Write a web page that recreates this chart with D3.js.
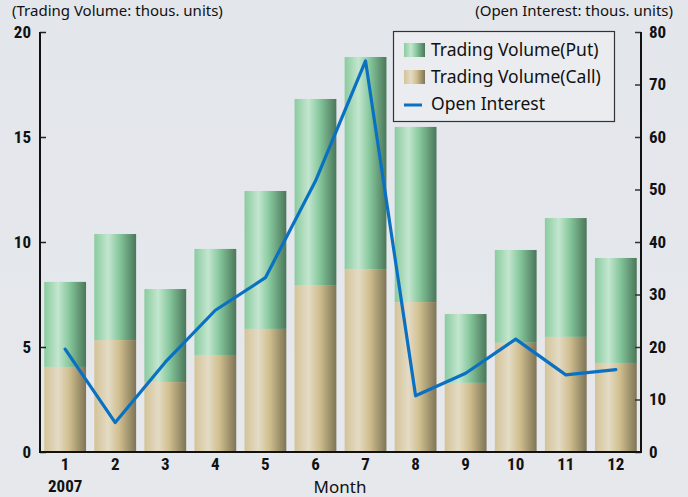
<!DOCTYPE html>
<html><head><meta charset="utf-8">
<script src="https://cdn.jsdelivr.net/npm/d3@7"></script>
<style>
body{margin:0;background:#e5e8ec;}
svg{display:block;}
</style></head>
<body>
<script>
const months = ["1","2","3","4","5","6","7","8","9","10","11","12"];
const callVolume = [4.05, 5.33, 3.33, 4.62, 5.86, 7.95, 8.71, 7.14, 3.29, 5.2, 5.48, 4.24];
const putVolume  = [4.05, 5.05, 4.43, 5.05, 6.57, 8.86, 10.1, 8.34, 3.28, 4.42, 5.66, 5.0];
const openInterest = [19.6, 5.6, 17.1, 27.0, 33.2, 51.6, 74.5, 10.7, 15.0, 21.5, 14.7, 15.7];
const leftTicks = [0, 5, 10, 15, 20];
const rightTicks = [0, 10, 20, 30, 40, 50, 60, 70, 80];
const legendLabels = ["Trading Volume(Put)", "Trading Volume(Call)", "Open Interest"];

const W = 688, H = 497;
const svg = d3.select("body").append("svg").attr("width", W).attr("height", H);
const defs = svg.append("defs");

const bg = defs.append("linearGradient").attr("id","bg").attr("x1",0).attr("y1",0).attr("x2",0).attr("y2",1);
bg.append("stop").attr("offset",0).attr("stop-color","#e3e6eb");
bg.append("stop").attr("offset",1).attr("stop-color","#e6e8ec");
svg.append("rect").attr("width",W).attr("height",H).attr("fill","url(#bg)");

function grad(id, stops){
  const g = defs.append("linearGradient").attr("id",id).attr("x1",0).attr("y1",0).attr("x2",1).attr("y2",0);
  stops.forEach(s => g.append("stop").attr("offset",s[0]).attr("stop-color",s[1]));
}
grad("gPut", [[0,"#8acb9f"],[0.33,"#c3e6cf"],[0.6,"#86c79c"],[1,"#4a775a"]]);
grad("gCall", [[0,"#d3c397"],[0.33,"#e4dbc5"],[0.6,"#cfbe8e"],[1,"#7e7556"]]);

const x0 = 40, x1 = 641, yTop = 32, yBot = 452;
const x = d3.scaleBand().domain(months).range([x0, x1]).paddingInner(0.165).paddingOuter(0.085);
const yL = d3.scaleLinear().domain([0,20]).range([yBot, yTop]);
const yR = d3.scaleLinear().domain([0,80]).range([yBot, yTop]);

// bars
const g = svg.append("g");
months.forEach((m,i) => {
  const c = callVolume[i], p = putVolume[i];
  g.append("rect").attr("x", x(m)).attr("width", x.bandwidth())
    .attr("y", yL(c+p)).attr("height", yL(c) - yL(c+p)).attr("fill","url(#gPut)");
  g.append("rect").attr("x", x(m)).attr("width", x.bandwidth())
    .attr("y", yL(c)).attr("height", yBot - yL(c)).attr("fill","url(#gCall)");
});

// line
const line = d3.line().x((d,i) => x(months[i]) + x.bandwidth()/2).y(d => yR(d)).curve(d3.curveLinear);
svg.append("path").datum(openInterest).attr("d", line).attr("fill","none")
  .attr("stroke","#0a71c2").attr("stroke-width",3.2).attr("stroke-linejoin","round").attr("stroke-linecap","round");

const tickFont = "'Liberation Sans Narrow','Roboto Condensed','Liberation Sans',Arial,sans-serif";

// left axis
const axL = svg.append("g").attr("transform",`translate(${x0},0)`)
  .call(d3.axisRight(yL).tickValues(leftTicks).tickSize(6).tickFormat(d3.format("d")));
axL.select(".domain").remove();
axL.selectAll(".tick line").attr("stroke","#222").attr("stroke-width",1.5);
axL.selectAll(".tick text").attr("x",-9).attr("text-anchor","end")
  .style("font-family",tickFont).style("font-weight","bold").style("font-size","17px").attr("fill","#111");

// right axis
const axR = svg.append("g").attr("transform",`translate(${x1},0)`)
  .call(d3.axisLeft(yR).tickValues(rightTicks).tickSize(6).tickFormat(d3.format("d")));
axR.select(".domain").remove();
axR.selectAll(".tick line").attr("stroke","#333").attr("stroke-width",1.5);
axR.selectAll(".tick text").attr("x",8).attr("text-anchor","start")
  .style("font-family",tickFont).style("font-weight","bold").style("font-size","17px").attr("fill","#111");

// axis lines
svg.append("path").attr("d",`M${x0},${yTop}V${yBot}H${x1}V${yTop}`).attr("fill","none")
  .attr("stroke","#111").attr("stroke-width",2);

// x axis labels
const axB = svg.append("g").attr("transform",`translate(0,${yBot})`)
  .call(d3.axisBottom(x).tickSize(0).tickPadding(6));
axB.select(".domain").remove();
axB.selectAll(".tick text").style("font-family",tickFont).style("font-weight","bold")
  .style("font-size","17px").attr("fill","#111");

svg.append("text").attr("x", x("1")+x.bandwidth()/2).attr("y", 492).attr("text-anchor","middle")
  .style("font-family",tickFont).style("font-weight","bold").style("font-size","17px").attr("fill","#111").text("2007");

const labFont = "'Noto Sans','Liberation Sans',Arial,sans-serif";
svg.append("text").attr("x", 340).attr("y", 493).attr("text-anchor","middle")
  .style("font-family",labFont).style("font-size","17px").attr("fill","#111").text("Month");
svg.append("text").attr("x", 12).attr("y", 16)
  .style("font-family",labFont).style("font-size","15px").attr("fill","#111").text("(Trading Volume: thous. units)");
svg.append("text").attr("x", 673).attr("y", 16).attr("text-anchor","end")
  .style("font-family",labFont).style("font-size","15px").attr("fill","#111").text("(Open Interest: thous. units)");

// legend
const lg = svg.append("g");
lg.append("rect").attr("x",393.5).attr("y",31.5).attr("width",221).attr("height",90)
  .attr("fill","#eaecef").attr("stroke","#333").attr("stroke-width",1.2);
const fills = ["url(#gPut)","url(#gCall)"];
legendLabels.forEach((t,i) => {
  const cy = 50 + i*27;
  if (i < 2) {
    lg.append("rect").attr("x",404).attr("y",cy-7).attr("width",21).attr("height",14).attr("fill",fills[i]);
  } else {
    lg.append("line").attr("x1",404).attr("x2",422).attr("y1",cy+1).attr("y2",cy+1)
      .attr("stroke","#0a71c2").attr("stroke-width",3);
  }
  lg.append("text").attr("x",431).attr("y",cy+6)
    .style("font-family",labFont).style("font-size","17.5px").attr("fill","#111").text(t);
});
</script>
</body></html>
